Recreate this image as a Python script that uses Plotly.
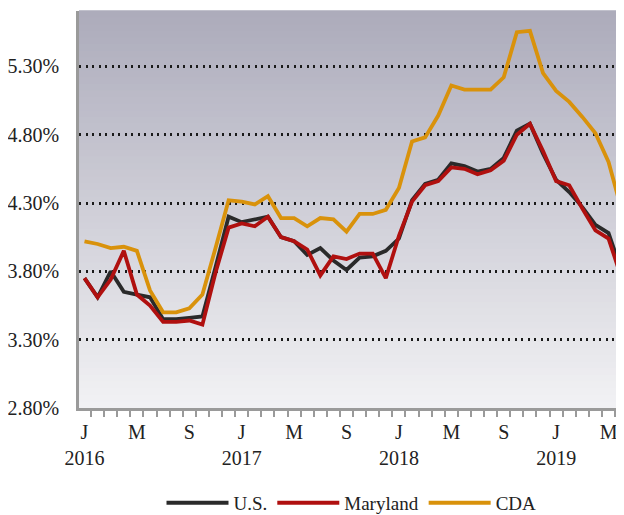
import plotly.graph_objects as go

# ---- data ----
months = [f"{y}-{m:02d}" for y in (2016, 2017, 2018, 2019) for m in range(1, 13)][:42]

us = [3.75, 3.61, 3.80, 3.65, 3.63, 3.61, 3.45, 3.45, 3.46, 3.47, 3.83, 4.20,
      4.16, 4.18, 4.20, 4.05, 4.02, 3.92, 3.97, 3.88, 3.81, 3.90, 3.91, 3.95,
      4.04, 4.32, 4.44, 4.47, 4.59, 4.57, 4.53, 4.55, 4.63, 4.83, 4.88, 4.66,
      4.47, 4.38, 4.27, 4.14, 4.08, 3.80]

maryland = [3.75, 3.61, 3.74, 3.95, 3.63, 3.55, 3.43, 3.43, 3.44, 3.41, 3.79, 4.12,
            4.15, 4.13, 4.20, 4.05, 4.02, 3.96, 3.77, 3.91, 3.89, 3.93, 3.93, 3.75,
            4.06, 4.31, 4.43, 4.46, 4.56, 4.55, 4.51, 4.54, 4.61, 4.80, 4.88, 4.68,
            4.46, 4.43, 4.26, 4.10, 4.04, 3.75]

cda = [4.02, 4.00, 3.97, 3.98, 3.95, 3.66, 3.50, 3.50, 3.53, 3.63, 3.97, 4.32,
       4.31, 4.29, 4.35, 4.19, 4.19, 4.13, 4.19, 4.18, 4.09, 4.22, 4.22, 4.25,
       4.41, 4.75, 4.78, 4.94, 5.16, 5.13, 5.13, 5.13, 5.22, 5.55, 5.56, 5.25,
       5.12, 5.04, 4.93, 4.81, 4.60, 4.25]

series_names = ["U.S.", "Maryland", "CDA"]
series_colors = ["#2a2a2a", "#b0100f", "#d9920b"]

y_ticks = [2.8, 3.3, 3.8, 4.3, 4.8, 5.3]
month_letters = {1: "J", 5: "M", 9: "S"}

# ---- derived ----
x = list(range(len(months)))
tickvals, ticktext = [], []
for i, mstr in enumerate(months):
    yr, mo = mstr.split("-")
    mo = int(mo)
    if mo in month_letters:
        tickvals.append(i)
        ticktext.append(month_letters[mo] + (f"<br>{yr}" if mo == 1 else ""))

FONT = "Liberation Serif, Times New Roman, serif"

fig = go.Figure()
for name, vals, col in zip(series_names, [us, maryland, cda], series_colors):
    fig.add_trace(go.Scatter(x=x, y=vals, mode="lines", name=name,
                             line=dict(color=col, width=3.8)))

# gradient background
top = (0xAC, 0xAB, 0xBB)
bot = (0xF2, 0xF2, 0xF4)
N = 60
shapes = []
for k in range(N):
    t = (k + 0.5) / N  # 0 bottom -> 1 top
    c = tuple(round(bot[j] + (top[j] - bot[j]) * t) for j in range(3))
    shapes.append(dict(type="rect", xref="x domain", yref="y domain",
                       x0=0, x1=1, y0=k / N, y1=(k + 1) / N + 0.002,
                       fillcolor=f"rgb{c}", line=dict(width=0), layer="below"))

# page body has an 8px margin: the figure is offset so the plot lands where the reference has it
fig.update_layout(
    width=616, height=515,
    margin=dict(l=71, r=0, t=3, b=115, autoexpand=False),
    paper_bgcolor="white", plot_bgcolor="white",
    font=dict(family=FONT, size=20, color="#222222"),
    shapes=shapes,
    showlegend=True,
    legend=dict(orientation="h", x=0.5, xanchor="center", y=-0.239, yanchor="middle",
                font=dict(family=FONT, size=19, color="#222222"),
                itemwidth=62, tracegroupgap=0),
)

fig.update_xaxes(
    range=[-0.42, 41.18], tickmode="array", tickvals=tickvals, ticktext=ticktext,
    ticks="outside", ticklen=4, tickcolor="rgba(0,0,0,0)",
    showgrid=False, zeroline=False, automargin=False,
    showline=True, linecolor="#9a9a9a", linewidth=2.5,
    minor=dict(tickmode="array", tickvals=[i - 0.5 for i in range(len(months) + 1)],
               ticks="outside", ticklen=6, tickcolor="#9a9a9a", tickwidth=2,
               showgrid=False),
)
fig.update_yaxes(
    range=[2.8, 5.705], tickmode="array", tickvals=y_ticks,
    ticktext=[f"{v:.2f}%" for v in y_ticks],
    ticks="outside", ticklen=13, tickcolor="rgba(0,0,0,0)", automargin=False,
    showgrid=True, gridcolor="#1a1a1a", gridwidth=2.5, griddash="2px,4.5px",
    zeroline=False, showline=True, linecolor="#9a9a9a", linewidth=2.5,
)

fig.write_html("out.html")
